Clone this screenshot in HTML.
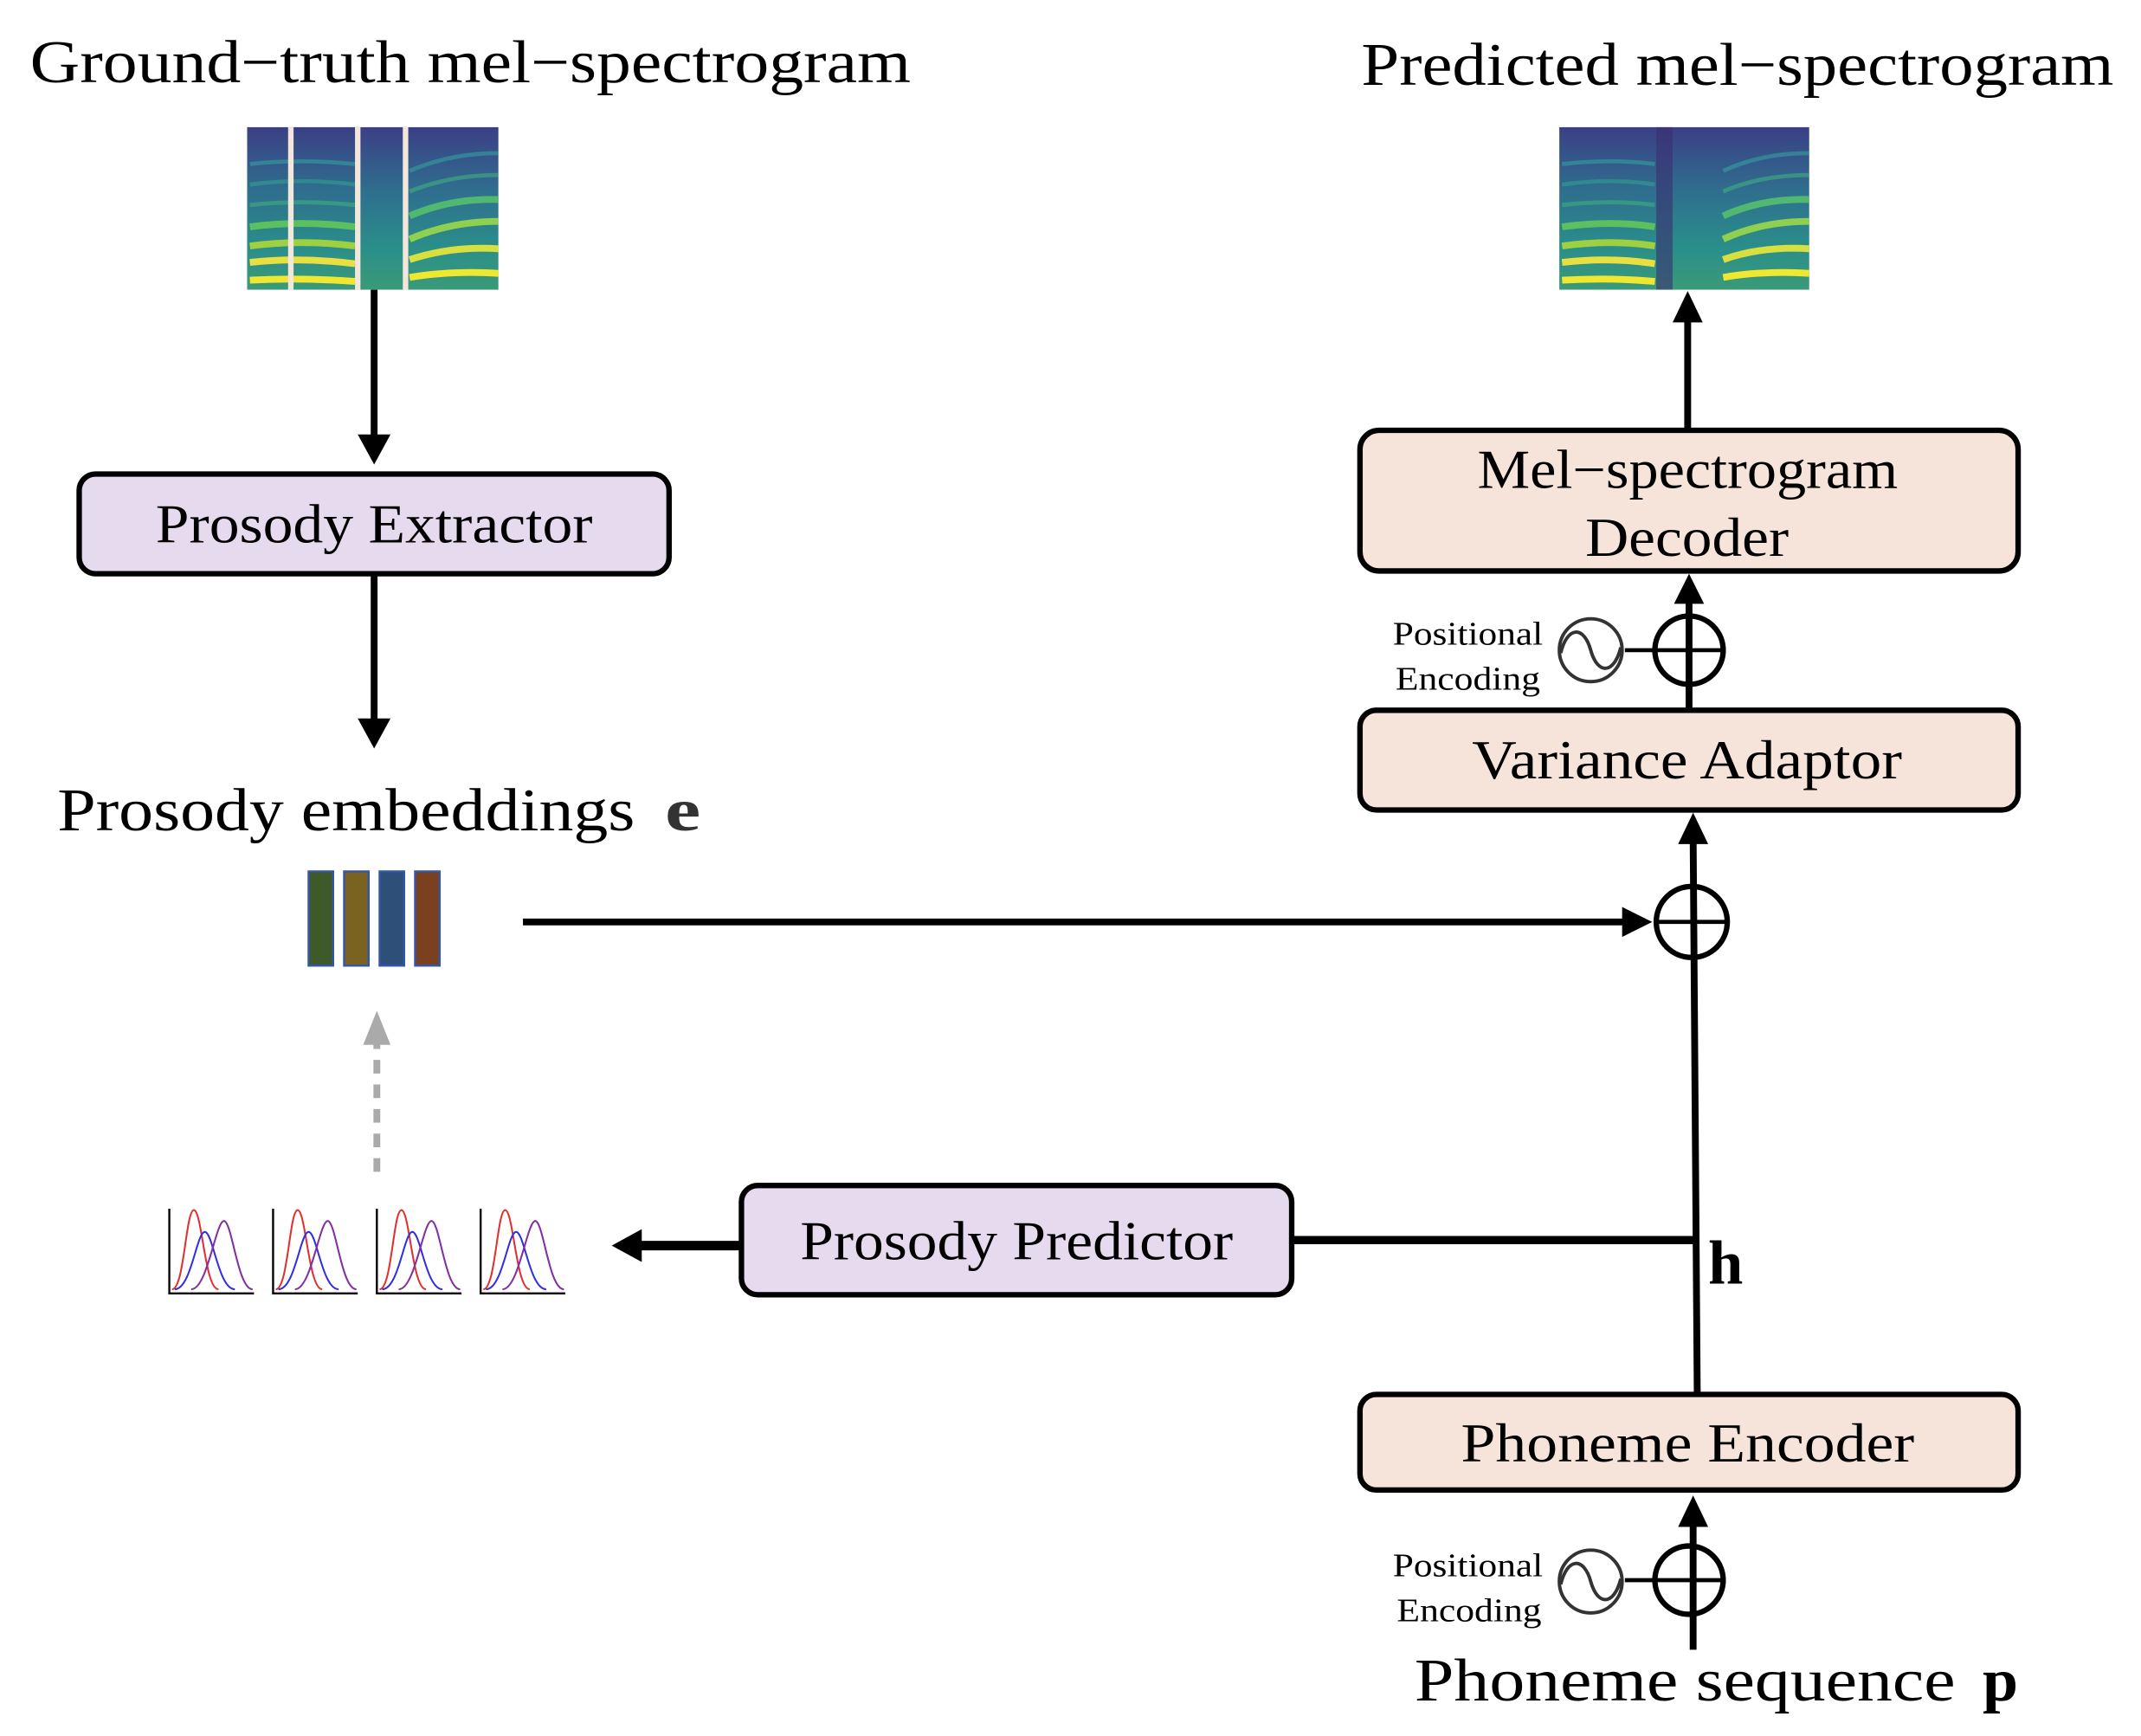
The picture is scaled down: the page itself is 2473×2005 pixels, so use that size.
<!DOCTYPE html>
<html><head><meta charset="utf-8"><style>html,body{margin:0;padding:0;background:#fff}svg{display:block}</style></head>
<body>
<svg width="2473" height="2005" viewBox="0 0 1568 1271" xmlns="http://www.w3.org/2000/svg" font-family="'Liberation Serif', serif">
<defs>
<linearGradient id="sg" x1="0" y1="0" x2="0" y2="1">
<stop offset="0" stop-color="#3b3f86"/><stop offset="0.4" stop-color="#2f6f8e"/><stop offset="0.75" stop-color="#2a8f8a"/><stop offset="1" stop-color="#3a9a78"/>
</linearGradient>
</defs>
<rect width="1568" height="1271" fill="#fff"/>
<text x="22" y="60" font-size="44" textLength="645" lengthAdjust="spacingAndGlyphs">Ground−truth mel−spectrogram</text>
<text x="997" y="62" font-size="44" textLength="551" lengthAdjust="spacingAndGlyphs">Predicted mel−spectrogram</text>

<g>
<rect x="181" y="93" width="184" height="119" fill="url(#sg)"/>
<g stroke-width="3" fill="none" opacity="0.6">
<path d="M183,120 Q220,116 260,120" stroke="#35a0a0"/>
<path d="M183,135 Q220,130 260,135" stroke="#30a090"/>
<path d="M183,150 Q220,146 260,150" stroke="#40b080"/>
<path d="M300,125 Q330,112 365,112" stroke="#35a0a0"/>
<path d="M300,140 Q330,128 365,128" stroke="#40b080"/>
</g>
<g stroke-width="5" fill="none">
<path d="M183,205 Q220,203 260,206" stroke="#f0e830"/>
<path d="M183,192 Q220,188 260,193" stroke="#e8e040"/>
<path d="M183,180 Q220,175 260,180" stroke="#9fd040"/>
<path d="M183,166 Q220,161 260,166" stroke="#5cc060"/>
<path d="M300,203 Q330,198 365,200" stroke="#f0e830"/>
<path d="M300,190 Q330,180 365,182" stroke="#d8e040"/>
<path d="M300,175 Q330,162 365,162" stroke="#8fd050"/>
<path d="M300,158 Q330,145 365,146" stroke="#50b870"/>
</g>
<rect x="211" y="93" width="4" height="119" fill="#f3e6da"/>
<rect x="260" y="93" width="4" height="119" fill="#f3e6da"/>
<rect x="295" y="93" width="4" height="119" fill="#f3e6da"/>
</g>
<g>
<rect x="1142" y="93" width="183" height="119" fill="url(#sg)"/>
<rect x="1213" y="93" width="12" height="119" fill="#3a2f70" opacity="0.6"/>
<g stroke-width="3" fill="none" opacity="0.6">
<path d="M1144,120 Q1180,116 1212,120" stroke="#35a0a0"/>
<path d="M1144,135 Q1180,130 1212,135" stroke="#30a090"/>
<path d="M1144,150 Q1180,146 1212,150" stroke="#40b080"/>
<path d="M1262,125 Q1290,112 1325,112" stroke="#35a0a0"/>
<path d="M1262,140 Q1290,128 1325,128" stroke="#40b080"/>
</g>
<g stroke-width="5" fill="none">
<path d="M1144,205 Q1180,203 1212,206" stroke="#f0e830"/>
<path d="M1144,192 Q1180,188 1212,193" stroke="#e8e040"/>
<path d="M1144,180 Q1180,175 1212,180" stroke="#9fd040"/>
<path d="M1144,166 Q1180,161 1212,166" stroke="#5cc060"/>
<path d="M1262,203 Q1290,198 1325,200" stroke="#f0e830"/>
<path d="M1262,190 Q1290,180 1325,182" stroke="#d8e040"/>
<path d="M1262,175 Q1290,162 1325,162" stroke="#8fd050"/>
<path d="M1262,158 Q1290,145 1325,146" stroke="#50b870"/>
</g>
</g>

<line x1="274" y1="212" x2="274" y2="320" stroke="#000" stroke-width="5"/>
<path d="M262,318 L274,340 L286,318 z"/>
<rect x="58" y="347" width="432" height="73" rx="12" fill="#e6dbee" stroke="#000" stroke-width="4"/>
<text x="114" y="397" font-size="40" textLength="320" lengthAdjust="spacingAndGlyphs">Prosody Extractor</text>
<line x1="274" y1="420" x2="274" y2="528" stroke="#000" stroke-width="5"/>
<path d="M262,526 L274,548 L286,526 z"/>
<text x="42" y="608" font-size="44" textLength="423" lengthAdjust="spacingAndGlyphs">Prosody embeddings</text>
<text x="487" y="608" font-size="44" font-weight="bold" fill="#333" textLength="26" lengthAdjust="spacingAndGlyphs">e</text>
<g stroke="#3355aa" stroke-width="1.5">
<rect x="226" y="638" width="18" height="69" fill="#3f5a2a"/>
<rect x="252" y="638" width="18" height="69" fill="#7a6220"/>
<rect x="278" y="638" width="18" height="69" fill="#2d4f78"/>
<rect x="304" y="638" width="18" height="69" fill="#7a4020"/>
</g>
<line x1="383" y1="675" x2="1192" y2="675" stroke="#000" stroke-width="5"/>
<path d="M1188,664 L1210,675 L1188,686 z"/>

<line x1="276" y1="858" x2="276" y2="760" stroke="#aaa" stroke-width="5" stroke-dasharray="10,8"/>
<path d="M266,765 L276,740 L286,765 z" fill="#aaa"/>

<g fill="none" stroke-width="1.3">
<g id="gp">
<path d="M124,885 V947 H186" stroke="#000" stroke-width="1.5"/>
<path d="M126,944 C135,944 136,886 142,886 C148,886 150,944 160,944" stroke="#e03030"/>
<path d="M128,944 C140,944 144,902 150,902 C156,902 160,944 172,944" stroke="#3030e0"/>
<path d="M140,944 C152,944 158,894 164,894 C170,894 174,944 185,944" stroke="#8030a0"/>
</g>
<use href="#gp" x="76"/><use href="#gp" x="152"/><use href="#gp" x="228"/>
</g>

<line x1="543" y1="912" x2="466" y2="912" stroke="#000" stroke-width="7"/>
<path d="M470,900 L448,912 L470,924 z"/>
<rect x="543" y="868" width="403" height="80" rx="12" fill="#e6dbee" stroke="#000" stroke-width="4"/>
<text x="586" y="922" font-size="40" textLength="317" lengthAdjust="spacingAndGlyphs">Prosody Predictor</text>
<line x1="946" y1="908" x2="1243" y2="908" stroke="#000" stroke-width="6"/>
<text x="1251" y="940" font-size="46" font-weight="bold">h</text>

<line x1="1243" y1="1020" x2="1240" y2="612" stroke="#000" stroke-width="5"/>
<path d="M1229,618 L1240,595 L1251,618 z"/>
<circle cx="1239" cy="675" r="26" fill="none" stroke="#000" stroke-width="4"/>
<line x1="1213" y1="675" x2="1265" y2="675" stroke="#000" stroke-width="3"/>

<rect x="996" y="520" width="482" height="73" rx="12" fill="#f6e4da" stroke="#000" stroke-width="4"/>
<text x="1078" y="570" font-size="40" textLength="315" lengthAdjust="spacingAndGlyphs">Variance Adaptor</text>

<line x1="1237" y1="520" x2="1237" y2="435" stroke="#000" stroke-width="5"/>
<path d="M1226,442 L1237,420 L1248,442 z"/>
<circle cx="1237" cy="476" r="25" fill="none" stroke="#000" stroke-width="4"/>
<line x1="1190" y1="476" x2="1262" y2="476" stroke="#000" stroke-width="3"/>
<circle cx="1165" cy="476" r="23" fill="#fff" stroke="#333" stroke-width="2.5"/>
<path d="M1143,478 C1148,458 1160,458 1165,476 C1170,494 1182,494 1187,474" fill="none" stroke="#333" stroke-width="2.5"/>
<text x="1020" y="472" font-size="24" textLength="110" lengthAdjust="spacingAndGlyphs">Positional</text>
<text x="1022" y="505" font-size="24" textLength="106" lengthAdjust="spacingAndGlyphs">Encoding</text>

<rect x="996" y="315" width="482" height="103" rx="14" fill="#f6e4da" stroke="#000" stroke-width="4"/>
<text x="1082" y="357" font-size="40" textLength="308" lengthAdjust="spacingAndGlyphs">Mel−spectrogram</text>
<text x="1161" y="407" font-size="40" textLength="149" lengthAdjust="spacingAndGlyphs">Decoder</text>
<line x1="1236" y1="315" x2="1236" y2="230" stroke="#000" stroke-width="5"/>
<path d="M1225,236 L1236,213 L1247,236 z"/>

<rect x="996" y="1021" width="482" height="70" rx="12" fill="#f6e4da" stroke="#000" stroke-width="4"/>
<text x="1070" y="1070" font-size="40" textLength="332" lengthAdjust="spacingAndGlyphs">Phoneme Encoder</text>
<line x1="1240" y1="1208" x2="1240" y2="1112" stroke="#000" stroke-width="5"/>
<path d="M1229,1118 L1240,1095 L1251,1118 z"/>
<circle cx="1237" cy="1157" r="25" fill="none" stroke="#000" stroke-width="4"/>
<line x1="1190" y1="1157" x2="1262" y2="1157" stroke="#000" stroke-width="3"/>
<circle cx="1165" cy="1158" r="23" fill="#fff" stroke="#333" stroke-width="2.5"/>
<path d="M1143,1160 C1148,1140 1160,1140 1165,1158 C1170,1176 1182,1176 1187,1156" fill="none" stroke="#333" stroke-width="2.5"/>
<text x="1020" y="1154" font-size="24" textLength="110" lengthAdjust="spacingAndGlyphs">Positional</text>
<text x="1023" y="1187" font-size="24" textLength="106" lengthAdjust="spacingAndGlyphs">Encoding</text>
<text x="1036" y="1245" font-size="44" textLength="396" lengthAdjust="spacingAndGlyphs">Phoneme sequence</text>
<text x="1452" y="1245" font-size="44" font-weight="bold" textLength="26" lengthAdjust="spacingAndGlyphs">p</text>
</svg>
</body></html>
